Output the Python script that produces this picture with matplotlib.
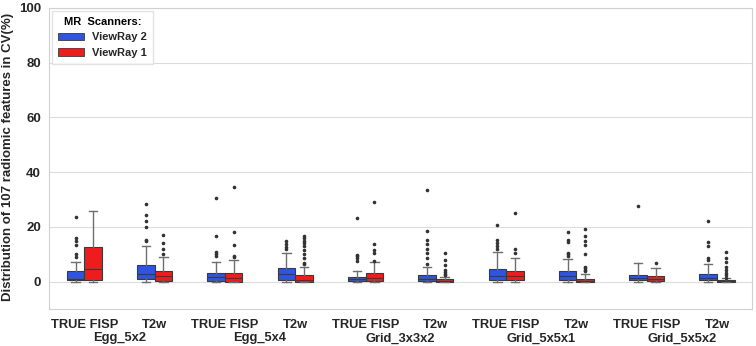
import matplotlib
matplotlib.use('Agg')
import matplotlib.pyplot as plt
from matplotlib.patches import Patch

plt.rcParams['font.family'] = ['Liberation Sans', 'DejaVu Sans']

# categories
groups = ['Egg_5x2', 'Egg_5x4', 'Grid_3x3x2', 'Grid_5x5x1', 'Grid_5x5x2']
sequences = ['TRUE FISP', 'T2w']
scanners = ['ViewRay 2', 'ViewRay 1']
colors = ['#2f55e0', '#ee1c1c']

# box statistics (CV %), order: group x sequence
vr2_whislo = [0.0, 0.0, 0.0, 0.0, 0.0, 0.0, 0.0, 0.0, 0.0, 0.0]
vr2_q1 = [0.6, 1.0, 0.3, 0.7, 0.4, 0.4, 0.6, 0.6, 0.6, 0.6]
vr2_med = [1.1, 2.6, 1.6, 2.6, 0.9, 1.0, 2.2, 2.0, 1.3, 1.4]
vr2_q3 = [3.7, 6.0, 3.2, 4.9, 1.6, 2.5, 4.5, 3.8, 2.3, 2.7]
vr2_whishi = [7.0, 13.1, 7.1, 10.4, 3.8, 5.3, 10.9, 8.3, 6.9, 6.3]
vr2_fliers = [
    [23.6, 16.1, 14.8, 13.2, 10.2, 9.1],
    [28.2, 24.5, 22.3, 20.1, 15.3, 14.8],
    [30.4, 16.5, 11.0, 10.0, 9.3],
    [14.8, 13.7, 12.7, 11.8],
    [23.4, 9.9, 9.2, 8.5, 7.5],
    [33.5, 18.4, 15.3, 13.9, 11.9, 10.3, 8.6, 6.6],
    [20.6, 15.2, 14.2, 13.1, 11.9],
    [18.1, 15.1, 14.6, 10.5, 10.0, 9.5],
    [27.7],
    [22.2, 14.5, 13.1, 8.5, 8.0],
]

vr1_whislo = [0.0, 0.0, 0.0, 0.0, 0.0, 0.0, 0.0, 0.0, 0.0, 0.0]
vr1_q1 = [0.7, 0.4, 0.0, 0.0, 0.2, 0.0, 0.6, 0.0, 0.3, 0.0]
vr1_med = [4.5, 1.9, 1.4, 0.7, 1.4, 0.3, 2.0, 0.4, 1.0, 0.3]
vr1_q3 = [12.6, 3.9, 3.2, 2.3, 3.0, 0.8, 3.9, 1.1, 2.1, 0.7]
vr1_whishi = [25.7, 9.1, 7.8, 5.3, 7.1, 1.8, 8.5, 2.6, 4.8, 1.3]
vr1_fliers = [
    [],
    [17.2, 14.1, 12.0, 10.2],
    [34.4, 18.1, 13.5, 9.4, 8.9],
    [16.7, 15.9, 15.0, 14.1, 13.0, 11.4, 10.2, 8.6, 6.9, 6.3],
    [29.2, 13.6, 11.4, 10.4, 7.7],
    [10.5, 8.0, 5.9, 4.3, 3.6, 2.8, 2.3],
    [24.9, 12.1, 10.4],
    [19.1, 16.7, 14.8, 13.5, 10.0, 5.5, 4.9, 4.3, 3.7],
    [6.7],
    [10.8, 8.8, 7.0, 5.5, 4.3, 3.3, 2.5, 1.4],
]


def make_stats(whislo, q1, med, q3, whishi, fliers):
    return [dict(whislo=a, q1=b, med=c, q3=d, whishi=e, fliers=f)
            for a, b, c, d, e, f in zip(whislo, q1, med, q3, whishi, fliers)]


stats = [make_stats(vr2_whislo, vr2_q1, vr2_med, vr2_q3, vr2_whishi, vr2_fliers),
         make_stats(vr1_whislo, vr1_q1, vr1_med, vr1_q3, vr1_whishi, vr1_fliers)]

fig = plt.figure(figsize=(7.56, 3.46), dpi=100)
ax = fig.add_axes([0.065, 0.107, 0.93, 0.87])

n = len(groups) * len(sequences)
x = list(range(n))
offsets = [-0.125, 0.125]

for s, st in enumerate(stats):
    ax.bxp(st, positions=[i + offsets[s] for i in x], widths=0.25,
           capwidths=0.12, patch_artist=True, manage_ticks=False,
           boxprops=dict(facecolor=colors[s], edgecolor='#3a3a3a', linewidth=0.8),
           medianprops=dict(color='#3a3a3a', linewidth=0.8),
           whiskerprops=dict(color='#6e6e6e', linewidth=1.0),
           capprops=dict(color='#6e6e6e', linewidth=1.0),
           flierprops=dict(marker='o', markersize=1.6, markerfacecolor='#333333',
                           markeredgecolor='#333333', linestyle='none'))

ax.set_xlim(-0.5, n - 0.5)
ax.set_ylim(-10, 100)
ax.set_yticks([0, 20, 40, 60, 80, 100])
ax.set_xticks(x)
ax.set_xticklabels(sequences * len(groups), fontsize=9.3, fontweight='bold')
for lab in ax.get_yticklabels():
    lab.set_fontsize(9.5)
    lab.set_fontweight('bold')
ax.tick_params(axis='x', length=0, pad=7, colors='#262626')
ax.tick_params(axis='y', length=0, pad=6, colors='#262626')

for g, name in enumerate(groups):
    ax.text(2 * g + 0.5, -0.078, name, transform=ax.get_xaxis_transform(),
            ha='center', va='top', fontsize=9.3, fontweight='bold', color='#262626')

ax.yaxis.grid(True, color='#dddddd', linewidth=0.8)
ax.set_axisbelow(True)
for sp in ax.spines.values():
    sp.set_color('#d0d0d0')
    sp.set_linewidth(0.8)

ax.set_ylabel('Distribution of 107 radiomic features in CV(%)', fontsize=9.5,
              fontweight='bold', color='#262626')
ax.yaxis.set_label_coords(-0.05, 0.505)

handles = [Patch(facecolor=colors[i], edgecolor='#3a3a3a', linewidth=0.6, label=scanners[i])
           for i in range(2)]
leg = ax.legend(handles=handles, title='MR  Scanners:', loc='upper left',
                borderaxespad=0.25,
                prop=dict(size=8, weight='bold'), title_fontproperties=dict(size=8, weight='bold'),
                frameon=True, edgecolor='#dddddd', fancybox=False, borderpad=0.55,
                labelspacing=0.5, handlelength=2.3, handleheight=0.7, handletextpad=0.8)
for t in leg.get_texts():
    t.set_color('#262626')

fig.savefig('out.png', dpi=100)
